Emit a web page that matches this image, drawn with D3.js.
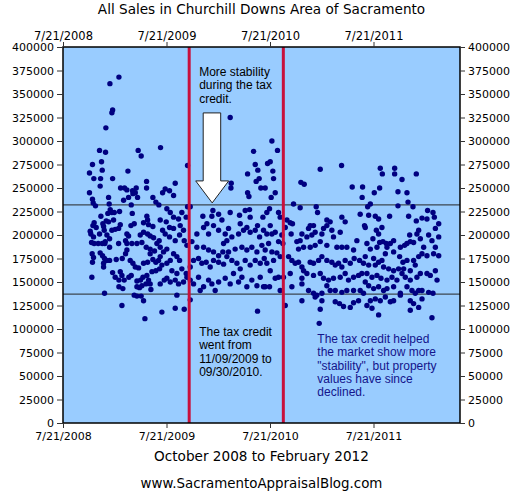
<!DOCTYPE html>
<html>
<head>
<meta charset="utf-8">
<script src="https://cdn.jsdelivr.net/npm/d3@7"></script>
<style>
  body { margin: 0; background: #fff; }
  svg { display: block; }
</style>
</head>
<body>
<div id="chart"></div>
<script>
// axis setup
const yTicks = d3.range(0, 400001, 25000);
const xTickDates = ['2008-07-21', '2009-07-21', '2010-07-21', '2011-07-21'];
const xDomain = ['2008-07-21', '2012-05-21'];

// reference lines
const bandLines = [232000, 137000];
const creditLines = ['2009-10-09', '2010-09-06'];

// sales, [decimal year, price in $1000s]
const sales2008 = [
  [2009.091,368],[2009.004,361],[2009.030,333],[2009.023,330],[2008.965,314],[2008.904,290],[2008.962,288],[2009.277,290],[2009.306,284],[2009.493,293],[2008.836,275],[2008.923,278],[2008.807,266],[2008.930,269],[2009.178,268],[2008.849,260],[2008.914,260],[2009.030,260],[2008.910,252],[2009.358,257],[2009.107,250],[2009.145,250],[2009.168,248],[2009.223,247],[2009.258,250],[2009.358,250],[2008.807,245],[2008.836,238],[2008.843,234],[2008.865,231],[2008.991,240],[2009.136,237],[2009.184,240],[2009.226,244],[2009.249,245],[2009.271,240],[2009.419,240],[2009.448,235],[2009.477,232],[2009.513,245],
  [2008.997,233],[2009.007,227],[2009.023,224],[2008.984,223],[2009.046,224],[2009.097,225],[2009.210,232],[2009.220,223],[2009.361,220],[2008.917,220],[2008.968,215],[2008.852,213],[2008.840,210],[2008.872,208],[2008.936,212],[2008.943,209],[2008.991,214],[2009.039,216],[2009.104,211],[2009.207,210],[2009.239,212],[2009.329,213],[2009.368,216],[2009.377,211],[2009.419,209],[2009.490,216],[2009.513,205],
  [2008.814,204],[2008.820,201],[2008.846,198],[2008.904,201],[2008.949,205],[2008.975,200],[2009.001,196],[2009.023,205],[2009.055,206],[2009.088,207],[2009.168,201],[2009.184,199],[2009.155,194],[2009.297,200],[2009.329,203],[2009.368,201],[2009.393,199],[2009.426,197],[2009.458,191],[2009.480,194],
  [2008.827,192],[2008.852,191],[2008.891,191],[2008.930,191],[2008.955,191],[2009.001,187],[2008.959,193],[2009.088,191],[2009.168,191],[2009.216,191],[2009.265,191],[2009.313,192],[2009.355,187],[2009.393,185],[2009.435,183],[2009.490,187],
  [2008.833,180],[2008.846,176],[2008.836,171],[2008.910,181],[2008.933,178],[2008.952,175],[2008.972,173],[2008.943,170],[2009.001,173],[2009.065,174],[2009.123,175],[2009.155,180],[2009.168,184],[2009.200,173],[2009.226,170],[2009.249,166],[2009.281,165],[2009.329,170],[2009.368,171],[2009.393,180],[2009.419,174],[2009.448,171],[2009.474,173],[2009.490,177],[2009.522,182],
  [2008.943,166],[2009.030,160],[2009.055,155],[2009.104,161],[2009.120,157],[2009.142,152],[2009.091,152],[2009.187,155],[2009.210,157],[2009.265,151],[2009.300,152],[2009.323,155],[2009.361,157],[2009.377,152],[2009.393,148],[2009.352,148],[2009.313,146],[2009.265,145],[2009.410,161],[2009.448,162],[2009.484,164],[2009.506,168],[2009.529,152],[2009.490,148],[2008.830,155],[2009.091,145],[2009.129,143],[2009.290,144],[2009.400,142],[2009.239,136],[2009.265,135],[2009.306,135],[2009.329,130],[2008.952,138],[2009.120,125],[2009.342,111],[2009.506,118]
];
const sales2009 = [
  [2009.754,274],[2009.635,255],[2009.538,249],[2009.580,247],[2009.619,242],[2010.166,325],[2010.392,289],[2010.408,275],[2010.433,269],[2010.334,265],[2010.446,260],[2010.417,257],[2010.462,250],[2010.334,245],[2010.347,241],[2010.176,255],[2010.173,250],
  [2009.587,224],[2009.554,228],[2009.619,219],[2009.699,224],[2009.754,230],[2009.780,230],[2009.741,219],[2009.667,217],[2009.548,214],[2009.580,208],[2009.619,207],[2009.683,210],[2009.715,205],[2009.538,201],[2009.580,198],[2009.635,194],[2009.677,200],[2009.722,194],[2009.748,189],[2009.796,193],[2009.844,201],[2009.902,220],[2009.941,212],[2009.999,226],[2009.989,220],[2010.054,222],[2010.086,216],[2010.005,210],[2009.909,208],[2009.957,201],[2010.054,205],[2010.118,201],[2010.150,207],[2010.182,198],[2010.134,194],[2010.102,191],[2010.166,224],[2010.256,221],[2010.311,226],[2010.353,227],[2010.359,219],[2010.327,208],[2010.263,212],[2010.247,201],[2010.295,205],[2010.359,203],[2010.408,205],[2010.430,210],[2010.450,198],[2010.482,219],[2010.488,205],
  [2009.844,187],[2009.909,187],[2009.957,184],[2010.005,182],[2010.054,178],[2010.095,182],[2010.150,182],[2010.214,185],[2010.279,187],[2010.327,184],[2010.375,187],[2010.424,182],[2010.472,189],[2009.554,185],[2009.619,180],[2009.651,177],[2009.677,173],[2009.587,173],[2009.554,170],[2009.603,162],[2009.651,159],[2009.699,164],[2009.741,159],[2009.780,166],[2009.812,173],[2009.860,175],[2009.892,170],[2009.934,171],[2009.973,166],[2010.005,173],[2010.054,171],[2010.102,169],[2010.134,177],[2010.182,173],[2010.231,170],[2010.263,164],[2010.311,173],[2010.359,168],[2010.408,173],[2010.456,170],[2010.495,175],
  [2009.554,154],[2009.587,150],[2009.635,152],[2009.667,148],[2009.715,150],[2009.748,155],[2009.780,152],[2009.812,148],[2009.860,155],[2009.876,141],[2009.909,145],[2009.957,152],[2009.989,148],[2010.021,141],[2010.054,150],[2010.118,154],[2010.166,148],[2010.198,159],[2010.247,150],[2010.279,155],[2010.327,145],[2010.375,152],[2010.424,146],[2010.456,155],[2010.488,145],[2009.651,136],[2009.780,131],[2009.635,122],[2009.722,121],[2010.430,119]
];
const sales2010 = [
  [2010.569,300],[2010.623,290],[2010.553,278],[2010.527,276],[2010.578,268],[2010.585,260],[2010.504,250],[2010.601,245],[2010.562,240],[2011.036,270],[2011.242,274],[2010.849,256],[2010.881,254],[2011.345,251],[2011.445,251],[2011.441,240],[2010.778,233],[2010.842,229],[2010.997,230],[2011.010,224],
  [2010.546,228],[2010.520,224],[2010.633,224],[2010.649,219],[2010.714,216],[2010.746,213],[2010.768,212],[2010.698,208],[2010.755,201],[2010.553,210],[2010.520,201],[2010.569,201],[2010.601,203],[2010.665,200],[2010.633,193],[2010.675,191],[2010.537,191],[2010.504,184],[2010.569,182],[2010.617,181],[2010.649,177],[2010.585,173],[2010.520,170],[2010.553,162],[2010.601,154],[2010.633,155],[2010.681,155],[2010.504,145],[2010.546,145],[2010.649,141],[2010.698,125],
  [2011.100,216],[2011.132,214],[2011.245,219],[2011.277,214],[2011.422,222],[2011.464,210],[2010.939,210],[2010.971,210],[2010.923,207],[2010.859,201],[2010.810,193],[2010.842,194],[2010.907,198],[2010.955,200],[2010.987,203],[2011.052,201],[2011.068,207],[2011.100,210],[2011.148,205],[2011.229,203],[2011.164,198],[2011.036,193],[2010.987,189],[2010.939,187],[2010.875,187],[2010.826,185],[2011.197,187],[2011.245,187],[2011.293,187],[2011.390,194],[2011.358,184],[2011.100,189],
  [2010.730,177],[2010.762,173],[2010.794,170],[2010.826,171],[2010.859,166],[2010.875,162],[2010.939,171],[2010.971,170],[2011.020,173],[2011.052,177],[2011.100,173],[2011.148,171],[2011.181,168],[2011.213,170],[2011.245,166],[2011.277,173],[2011.326,170],[2011.364,175],[2011.416,173],[2011.454,170],
  [2010.746,159],[2010.859,154],[2010.907,159],[2010.971,157],[2011.036,159],[2011.068,154],[2011.116,152],[2011.164,154],[2011.229,155],[2011.277,159],[2011.309,152],[2011.358,155],[2011.406,157],[2011.438,159],[2010.859,148],[2010.923,141],[2010.971,138],[2011.003,136],[2011.052,138],[2011.100,146],[2011.132,141],[2011.181,141],[2011.245,139],[2011.293,141],[2011.358,141],[2011.422,141],[2011.454,138],[2010.762,145],[2010.859,130],[2010.987,134],[2011.052,130],[2011.181,129],[2011.222,127],[2011.261,124],[2011.326,123],[2011.358,128],[2011.406,130],[2011.036,121],[2011.026,106]
];
const sales2011 = [
  [2011.616,271],[2011.636,265],[2011.755,271],[2011.755,265],[2011.826,259],[2011.964,265],[2011.558,245],[2011.610,250],[2011.787,246],[2011.874,245],[2011.884,235],[2011.932,230],[2011.787,231],[2011.520,233],[2011.494,230],[2011.504,221],[2011.568,220],[2011.600,217],[2011.706,220],[2011.890,220],[2012.019,218],[2012.073,226],[2012.125,224],[2012.138,219],[2012.067,217],[2011.964,215],[2012.180,212],[2012.148,207],[2011.987,205],[2011.970,201],[2011.900,200],[2011.874,191],[2011.906,193],[2011.938,192],[2011.851,189],[2011.810,187],[2011.745,194],[2011.713,191],[2011.674,191],[2011.642,193],[2011.610,192],[2011.578,205],[2011.600,201],[2011.632,208],[2011.545,196],[2011.487,191],[2011.520,185],[2011.584,187],[2011.471,208],[2012.003,196],[2012.083,200],[2012.115,194],[2012.148,187],[2012.180,198],[2012.035,187],[2012.019,180],[2012.067,178],[2012.131,180],[2012.180,178],
  [2011.471,177],[2011.552,175],[2011.600,171],[2011.632,173],[2011.665,180],[2011.681,187],[2011.745,182],[2011.803,177],[2011.835,171],[2011.874,173],[2011.938,173],[2011.987,177],[2011.954,168],[2011.906,162],[2011.842,164],[2011.793,164],[2011.745,162],[2011.697,164],[2011.648,166],[2011.568,168],[2011.504,168],[2011.487,159],[2011.536,155],[2011.584,157],[2011.623,154],[2011.681,152],[2011.729,155],[2011.777,152],[2011.826,159],[2011.858,155],[2011.906,152],[2011.970,155],[2012.003,159],[2012.067,159],[2012.099,157],[2012.148,162],[2012.164,152],
  [2011.471,150],[2011.504,146],[2011.552,143],[2011.600,145],[2011.648,141],[2011.681,143],[2011.745,145],[2011.810,138],[2011.874,145],[2011.922,141],[2011.954,138],[2011.987,141],[2012.019,141],[2012.083,139],[2012.125,138],[2011.520,130],[2011.568,132],[2011.616,130],[2011.665,134],[2011.713,129],[2011.745,130],[2011.810,136],[2011.906,130],[2011.938,127],[2011.987,123],[2012.019,132],[2011.487,125],[2011.536,122],[2011.600,115],[2011.906,120],[2012.115,112]
];

const width = 530;
const height = 493;
const margin = {top: 47, right: 70, bottom: 70, left: 63};

const parse = d3.timeParse('%Y-%m-%d');

// decimal year -> Date
function fromDecimal(v) {
  const y0 = Math.floor(v);
  const a = new Date(y0, 0, 1), b = new Date(y0 + 1, 0, 1);
  return new Date(+a + (v - y0) * (b - a));
}

const sales = [].concat(sales2008, sales2009, sales2010, sales2011)
  .map(d => ({date: fromDecimal(d[0]), price: d[1] * 1000}));

const svg = d3.select('#chart')
  .append('svg')
  .attr('width', width)
  .attr('height', height)
  .attr('viewBox', [0, 0, width, height]);

const x = d3.scaleTime()
  .domain(xDomain.map(parse))
  .range([margin.left, width - margin.right]);

const y = d3.scaleLinear()
  .domain([0, 400000])
  .range([height - margin.bottom, margin.top]);

// plot background
svg.append('rect')
  .attr('x', x.range()[0])
  .attr('y', y(400000))
  .attr('width', x.range()[1] - x.range()[0])
  .attr('height', y(0) - y(400000))
  .attr('fill', '#99ccff');

// band lines
svg.append('g')
  .selectAll('line')
  .data(bandLines)
  .join('line')
  .attr('x1', x.range()[0])
  .attr('x2', x.range()[1])
  .attr('y1', d => y(d))
  .attr('y2', d => y(d))
  .attr('stroke', '#3c4650')
  .attr('stroke-width', 1.3);

// dots
svg.append('g')
  .attr('fill', '#000080')
  .selectAll('circle')
  .data(sales)
  .join('circle')
  .attr('cx', d => x(d.date))
  .attr('cy', d => y(d.price))
  .attr('r', 2.7);

// tax credit lines
svg.append('g')
  .selectAll('line')
  .data(creditLines)
  .join('line')
  .attr('x1', d => x(parse(d)))
  .attr('x2', d => x(parse(d)))
  .attr('y1', y(0))
  .attr('y2', y(400000))
  .attr('stroke', '#c8103c')
  .attr('stroke-width', 3);

// border
svg.append('rect')
  .attr('x', x.range()[0])
  .attr('y', y(400000))
  .attr('width', x.range()[1] - x.range()[0])
  .attr('height', y(0) - y(400000))
  .attr('fill', 'none')
  .attr('stroke', '#000')
  .attr('stroke-width', 1.5);

const fmtDate = d3.timeFormat('%-m/%-d/%Y');
const xTicks = xTickDates.map(parse);

function styleAxis(g, size) {
  g.select('.domain').remove();
  g.selectAll('.tick line').attr('stroke', '#333');
  g.selectAll('text')
    .attr('fill', '#000')
    .attr('font-family', 'DejaVu Sans, sans-serif')
    .attr('font-size', size);
}

svg.append('g')
  .attr('transform', `translate(${margin.left},0)`)
  .call(d3.axisLeft(y).tickValues(yTicks).tickFormat(d3.format('d')).tickSize(6).tickPadding(3))
  .call(styleAxis, '11px');

svg.append('g')
  .attr('transform', `translate(${x.range()[1]},0)`)
  .call(d3.axisRight(y).tickValues(yTicks).tickFormat(d3.format('d')).tickSize(5).tickPadding(3))
  .call(styleAxis, '11px');

svg.append('g')
  .attr('transform', `translate(0,${y(0)})`)
  .call(d3.axisBottom(x).tickValues(xTicks).tickFormat(fmtDate).tickSize(5).tickPadding(4))
  .call(styleAxis, '11px');

svg.append('g')
  .attr('transform', `translate(0,${y(400000)})`)
  .call(d3.axisTop(x).tickValues(xTicks).tickFormat(fmtDate).tickSize(5).tickPadding(2))
  .call(styleAxis, '11.5px');

// titles
const midX = (x.range()[0] + x.range()[1]) / 2;
svg.append('text')
  .attr('x', midX).attr('y', 14)
  .attr('text-anchor', 'middle')
  .attr('font-family', 'DejaVu Sans, sans-serif')
  .attr('font-size', '13.6px')
  .text('All Sales in Churchill Downs Area of Sacramento');

svg.append('text')
  .attr('x', midX).attr('y', 461)
  .attr('text-anchor', 'middle')
  .attr('font-family', 'DejaVu Sans, sans-serif')
  .attr('font-size', '13.6px')
  .text('October 2008 to February 2012');

svg.append('text')
  .attr('x', midX).attr('y', 488)
  .attr('text-anchor', 'middle')
  .attr('font-family', 'DejaVu Sans, sans-serif')
  .attr('font-size', '13.4px')
  .text('www.SacramentoAppraisalBlog.com');

// annotations
function note(lines, x0, y0, color) {
  const t = svg.append('text')
    .attr('font-family', 'Liberation Sans, Arial, sans-serif')
    .attr('font-size', '12px')
    .attr('fill', color);
  lines.forEach((s, i) => {
    t.append('tspan').attr('x', x0).attr('y', y0 + i * 13.3).text(s);
  });
}

const c1 = x(parse(creditLines[0]));
const c2 = x(parse(creditLines[1]));

note(['More stability', 'during the tax', 'credit.'], c1 + 10, 76, '#000');
note(['The tax credit', 'went from', '11/09/2009 to', '09/30/2010.'], c1 + 10, 336, '#000');
note(['The tax credit helped', 'the market show more', '"stability", but property', 'values have since', 'declined.'], c2 + 34, 343, '#14148c');

// arrow pointing at upper band line
const tipX = c1 + 23, tipY = y(bandLines[0]) - 2;
svg.append('path')
  .attr('d', `M${tipX},${tipY} L${tipX - 16.5},${tipY - 22} L${tipX - 9},${tipY - 22} L${tipX - 9},${tipY - 90}
    L${tipX + 8.5},${tipY - 90} L${tipX + 8.5},${tipY - 22} L${tipX + 16.5},${tipY - 22} Z`)
  .attr('fill', '#fff')
  .attr('stroke', '#222')
  .attr('stroke-width', 1);
</script>
</body>
</html>
